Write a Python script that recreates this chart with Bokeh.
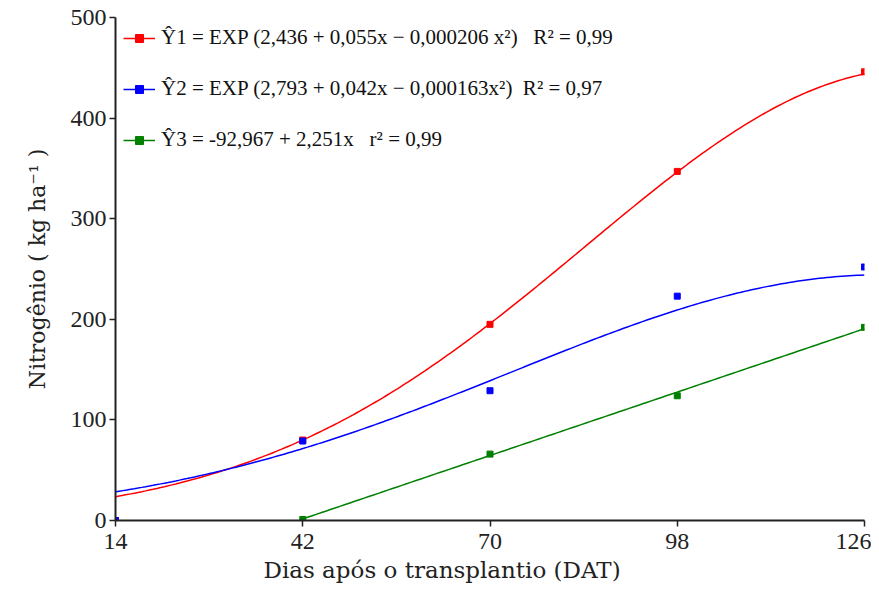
import numpy as np
from bokeh.plotting import figure
from bokeh.models import Legend, LegendItem, FixedTicker, Range1d, Title
from bokeh.embed import file_html
from bokeh.resources import INLINE

# ---- data ----
dat = [14, 42, 70, 98, 126]
y1_obs = [0, 80, 195, 347, 446]
y2_obs = [0, 79, 129, 223, 252]
dat3 = [42, 70, 98, 126]
y3_obs = [1, 66, 124, 192]

# regression coefficients shown in the chart
coef1 = [2.436, 0.055, -0.000206]   # Y1 = EXP(a + b x + c x^2)
coef2 = [2.793, 0.042, -0.000163]   # Y2 = EXP(a + b x + c x^2)
coef3 = [-92.967, 2.251]            # Y3 = a + b x

x_ticks = [14, 42, 70, 98, 126]
y_ticks = [0, 100, 200, 300, 400, 500]

labels = [
    "Ŷ1 = EXP (2,436 + 0,055x − 0,000206 x²)   R² = 0,99",
    "Ŷ2 = EXP (2,793 + 0,042x − 0,000163x²)  R² = 0,97",
    "Ŷ3 = -92,967 + 2,251x   r² = 0,99",
]
colors = ["#ff0000", "#0000ff", "#008000"]

TICK_FONT = "Liberation Serif"
TEXT_FONT = "DejaVu Serif"

xf = np.linspace(14, 126, 200)
xf3 = np.linspace(42, 126, 120)
fit1 = np.exp(coef1[0] + coef1[1] * xf + coef1[2] * xf ** 2)
fit2 = np.exp(coef2[0] + coef2[1] * xf + coef2[2] * xf ** 2)
fit3 = coef3[0] + coef3[1] * xf3

p = figure(width=871, height=592, output_backend="svg", toolbar_location=None,
           x_range=Range1d(14, 126), y_range=Range1d(0, 500),
           min_border_left=115, min_border_right=7, min_border_top=17,
           min_border_bottom=72)
p.outline_line_color = None
p.xgrid.visible = False
p.ygrid.visible = False
p.background_fill_color = "white"
p.border_fill_color = "white"

l1 = p.line(xf, fit1, line_color=colors[0], line_width=1.5)
s1 = p.scatter(dat, y1_obs, marker="square", size=6, color=colors[0])
l2 = p.line(xf, fit2, line_color=colors[1], line_width=1.5)
s2 = p.scatter(dat, y2_obs, marker="square", size=6, color=colors[1])
l3 = p.line(xf3, fit3, line_color=colors[2], line_width=1.5)
s3 = p.scatter(dat3, y3_obs, marker="square", size=6, color=colors[2])

for ax in (p.xaxis[0], p.yaxis[0]):
    ax.axis_line_color = "#222222"
    ax.axis_line_width = 2
    ax.major_tick_line_color = "#222222"
    ax.major_tick_line_width = 1.5
    ax.major_tick_in = 0
    ax.major_tick_out = 6
    ax.minor_tick_line_color = None
    ax.major_label_text_font = TICK_FONT
    ax.major_label_text_font_size = "24px"
    ax.major_label_text_color = "#222222"
    ax.axis_label_text_font = TEXT_FONT
    ax.axis_label_text_font_size = "22px"
    ax.axis_label_text_font_style = "normal"
    ax.axis_label_text_color = "#222222"

p.xaxis.ticker = FixedTicker(ticks=x_ticks)
p.yaxis.ticker = FixedTicker(ticks=y_ticks)
p.xaxis.major_label_standoff = 7
p.yaxis.major_label_standoff = 3
p.yaxis.axis_label = "Nitrogênio ( kg ha⁻¹ )"
p.yaxis.axis_label_standoff = 18

xtitle = Title(text="Dias após o transplantio (DAT)", align="left", offset=148,
               standoff=6, text_font=TEXT_FONT, text_font_size="23px",
               text_font_style="normal", text_color="#222222")
p.add_layout(xtitle, "below")

legend = Legend(items=[
    LegendItem(label=labels[0], renderers=[l1, s1]),
    LegendItem(label=labels[1], renderers=[l2, s2]),
    LegendItem(label=labels[2], renderers=[l3, s3]),
], location="top_left")
legend.margin = 8
legend.padding = 14
legend.spacing = 26
legend.glyph_width = 32
legend.label_standoff = 6
legend.border_line_color = None
legend.background_fill_alpha = 0
legend.label_text_font = TICK_FONT
legend.label_text_font_size = "21px"
legend.label_text_color = "#111111"
p.add_layout(legend, "center")

open("out.html", "w").write(file_html(p, INLINE))
